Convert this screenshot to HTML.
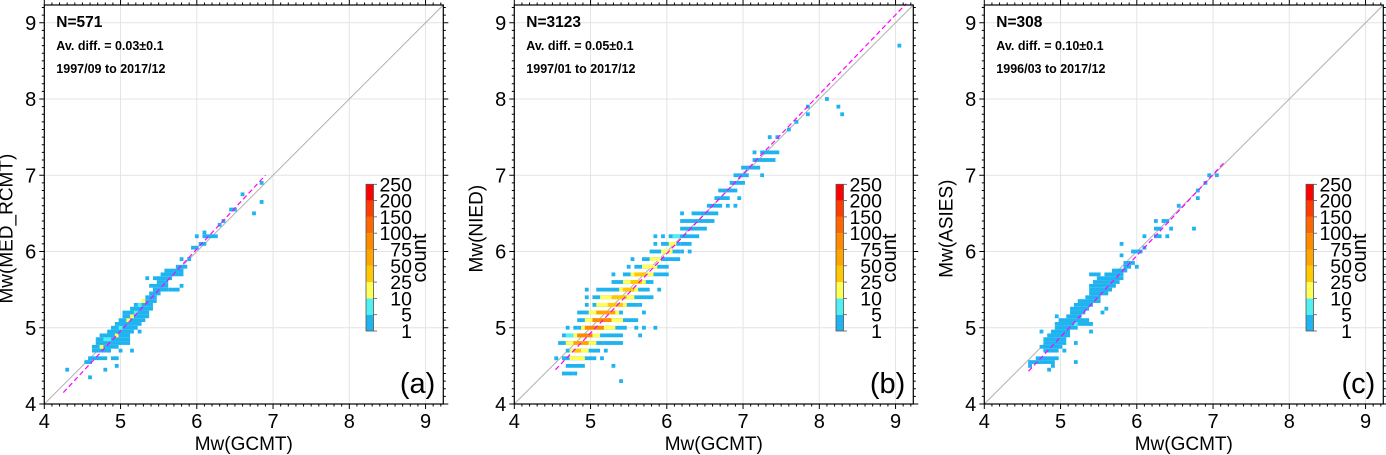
<!DOCTYPE html>
<html><head><meta charset="utf-8">
<style>
html,body{margin:0;padding:0;background:#fff;}
svg{display:block;font-family:"Liberation Sans",Arial,sans-serif;}
</style></head>
<body>
<svg id="chart" width="1386" height="455" viewBox="0 0 1386 455" xmlns="http://www.w3.org/2000/svg"></svg>
<script>
// ---- data ----
const levels = [1,5,10,25,50,75,100,150,200,250];
const levelColors = ["#1fb4f0","#50f0f0","#ffff55","#ffc800","#ffa500","#ff8a00","#ff6600","#ff3c00","#ff0000"];
const ticks = [4,5,6,7,8,9];
const panelLabels = ["(a)","(b)","(c)"];
const yTitles = ["Mw(MED_RCMT)","Mw(NIED)","Mw(ASIES)"];
const nTexts = ["N=571","N=3123","N=308"];
const diffTexts = ["Av. diff. = 0.03\u00b10.1","Av. diff. = 0.05\u00b10.1","Av. diff. = 0.10\u00b10.1"];
const dateTexts = ["1997/09 to 2017/12","1997/01 to 2017/12","1996/03 to 2017/12"];
const fitA = [4.25,4.15,6.9,7.0];
const fitB = [4.54,4.45,9.14,9.25];
const fitC = [4.58,4.43,7.14,7.16];
// runs: row y, x start, x end, count
const aY = [4.37,4.43,4.47,4.52,4.57,4.62,4.62,4.68,4.68,4.68,4.73,4.73,4.78,4.83,4.83,4.88,4.88,4.93,4.93,4.98,4.98,5.03,5.08,5.08,5.14,5.14,5.19,5.19,5.24,5.29,5.29,5.34,5.34,5.39,5.44,5.49,5.49,5.54,5.54,5.6,5.65,5.65,5.7,5.75,5.8,5.9,5.9,6.03,6.08,6.18,6.18,6.23,6.33,6.38,6.48,6.53,6.63,6.73,6.88];
const aX0 = [4.6,4.31,4.82,4.97,4.53,4.6,4.9,4.65,5.0,5.17,4.65,4.77,4.69,4.7,4.82,4.77,4.93,4.86,5.27,4.9,4.99,4.97,5.0,5.1,5.03,5.14,5.06,5.19,5.14,5.21,5.25,5.3,5.3,5.36,5.41,5.43,5.67,5.41,5.81,5.52,5.36,5.47,5.56,5.6,5.73,5.81,5.92,5.95,6.04,6.02,6.08,6.12,6.32,6.37,6.77,6.45,6.87,6.62,6.87];
const aX1 = [4.6,4.31,4.82,4.97,4.62,4.82,4.97,4.86,5.0,5.17,4.93,4.77,5.1,5.08,4.86,5.1,4.93,5.14,5.27,5.19,5.0,5.25,5.3,5.1,5.34,5.17,5.36,5.21,5.41,5.41,5.25,5.46,5.3,5.43,5.49,5.58,5.73,5.62,5.81,5.62,5.36,5.67,5.78,5.82,5.84,5.81,5.92,6.0,6.08,6.02,6.24,6.12,6.32,6.37,6.77,6.52,6.87,6.62,6.87];
const aC = [3,3,3,3,3,3,3,3,3,3,3,15,3,3,7,3,15,3,3,3,7,3,3,15,3,15,3,7,3,3,7,3,15,3,3,3,3,3,3,3,3,3,3,3,3,3,3,3,3,3,3,3,3,3,3,3,3,3,3];
const bY = [4.32,4.42,4.42,4.52,4.52,4.62,4.62,4.62,4.62,4.62,4.72,4.72,4.72,4.72,4.82,4.82,4.82,4.82,4.92,4.92,4.92,4.92,4.92,5.02,5.02,5.02,5.02,5.02,5.02,5.02,5.02,5.12,5.12,5.12,5.22,5.22,5.22,5.22,5.32,5.32,5.32,5.32,5.32,5.42,5.42,5.42,5.42,5.52,5.52,5.52,5.52,5.52,5.52,5.62,5.62,5.62,5.72,5.72,5.72,5.72,5.82,5.82,5.82,5.92,5.92,5.92,6.02,6.02,6.02,6.02,6.12,6.12,6.12,6.12,6.22,6.22,6.22,6.22,6.32,6.42,6.52,6.52,6.62,6.62,6.62,6.72,6.72,6.82,6.92,7.02,7.02,7.12,7.22,7.32,7.32,7.52,7.52,7.62,7.72,7.82,7.82,7.92,7.92,8.02,8.72];
const bX0 = [5.41,4.65,4.82,4.71,5.28,4.55,4.65,4.74,5.06,5.17,4.7,4.74,4.78,5.22,4.6,4.7,4.78,5.2,4.65,4.72,4.82,4.86,5.67,4.72,4.82,4.86,4.9,4.95,5.61,5.72,5.87,4.86,4.95,5.05,4.85,5.0,5.12,5.72,4.97,5.06,5.1,5.25,5.67,4.97,5.06,5.15,5.3,4.97,5.1,5.3,5.4,5.45,5.92,5.3,5.45,5.55,5.28,5.47,5.55,5.6,5.52,5.6,5.7,5.57,5.7,5.8,5.81,5.95,6.22,6.32,5.87,5.96,6.05,6.22,5.87,5.96,6.04,6.1,6.2,6.2,6.22,6.36,6.55,6.82,6.92,6.65,6.97,6.7,6.85,6.91,7.26,7.0,7.15,7.15,7.27,7.37,7.47,7.62,7.72,7.86,8.32,7.86,8.27,8.11,9.07];
const bX1 = [5.41,4.74,4.82,4.9,5.28,4.55,4.99,4.9,5.06,5.17,5.12,4.95,4.86,5.22,5.14,5.05,4.95,5.4,5.38,4.8,5.12,5.0,5.67,4.72,4.82,5.44,5.3,5.15,5.61,5.72,5.87,5.59,5.4,5.25,5.38,5.35,5.3,5.72,4.97,5.58,5.45,5.4,5.67,4.97,5.8,5.55,5.45,4.97,5.25,5.73,5.6,5.55,5.92,5.8,5.7,5.65,5.28,6.0,5.8,5.7,5.52,6.0,5.85,5.57,6.15,5.9,6.15,6.05,6.22,6.32,5.87,6.15,6.12,6.3,5.87,5.96,6.4,6.15,6.5,6.6,6.22,6.64,6.69,6.82,6.92,6.82,6.97,6.89,7.0,7.04,7.26,7.19,7.39,7.15,7.43,7.37,7.47,7.62,7.72,7.86,8.32,7.86,8.27,8.11,9.07];
const bC = [3,3,3,3,3,3,3,15,3,3,3,15,40,3,3,15,60,3,3,7,15,80,3,3,3,3,15,80,3,3,3,3,15,80,3,15,60,3,3,3,15,40,3,3,3,15,40,3,3,3,15,40,3,3,15,40,3,3,15,40,3,3,15,3,3,15,3,15,3,3,3,3,15,3,3,3,3,7,3,3,3,3,3,3,3,3,3,3,3,3,3,3,3,3,3,3,3,3,3,3,3,3,3,3,3];
const cY = [4.47,4.52,4.52,4.57,4.57,4.62,4.68,4.68,4.73,4.78,4.78,4.83,4.88,4.93,4.93,4.93,4.98,5.03,5.03,5.08,5.13,5.13,5.18,5.18,5.23,5.23,5.28,5.33,5.38,5.43,5.48,5.53,5.58,5.63,5.68,5.68,5.73,5.78,5.78,5.83,5.93,5.98,6.03,6.08,6.18,6.18,6.18,6.28,6.28,6.28,6.38,6.38,6.58,6.68,6.78,6.88,6.98,6.98];
const cX0 = [4.87,4.61,4.92,4.6,5.22,4.7,4.79,5.07,4.76,4.79,5.22,4.81,4.83,4.76,4.9,5.38,4.94,4.96,5.2,4.98,4.96,5.11,5.16,5.53,5.16,5.62,5.2,5.27,5.33,5.38,5.4,5.38,5.45,5.5,5.42,5.59,5.7,5.86,6.02,5.86,5.81,5.94,6.1,5.81,6.12,6.27,6.4,6.25,6.47,6.76,6.25,6.36,6.55,6.81,6.81,6.9,6.96,7.06];
const cX1 = [4.87,4.61,4.92,4.89,5.22,4.94,4.96,5.07,5.0,5.03,5.22,5.07,5.1,4.76,5.12,5.38,5.18,5.4,5.22,5.35,4.96,5.25,5.3,5.53,5.35,5.62,5.4,5.48,5.52,5.58,5.63,5.7,5.75,5.78,5.48,5.82,5.87,5.92,6.02,5.94,5.81,6.05,6.1,5.81,6.12,6.32,6.4,6.29,6.47,6.76,6.25,6.42,6.55,6.81,6.81,6.9,6.96,7.06];
const cC = [3,3,3,3,3,3,3,3,3,3,3,3,3,3,3,3,3,3,7,3,3,3,3,3,3,3,3,3,3,3,3,3,3,3,3,3,3,3,3,3,3,3,3,3,3,3,3,3,3,3,3,3,3,3,3,3,3,3];

const panels = [
  {L:44.3, Y:aY, X0:aX0, X1:aX1, C:aC, fit:fitA, cbx:366},
  {L:514.3, Y:bY, X0:bX0, X1:bX1, C:bC, fit:fitB, cbx:836},
  {L:984.3, Y:cY, X0:cX0, X1:cX1, C:cC, fit:fitC, cbx:1306}
];
const U = 76.25, B = 404, TOP = 5, W = 399;
const NS = "http://www.w3.org/2000/svg";
const svg = document.getElementById('chart');
function mk(tag, attrs, parent, text){
  const e = document.createElementNS(NS, tag);
  for (const k in attrs) e.setAttribute(k, attrs[k]);
  if (text !== undefined) e.textContent = text;
  (parent||svg).appendChild(e);
  return e;
}
function colorFor(c){
  for (let i=levels.length-2;i>=0;i--) if (c>=levels[i]) return levelColors[i];
  return levelColors[0];
}
panels.forEach((p, pi) => {
  const sx = v => p.L + (v-4)*U;
  const sy = v => B - (v-4)*U;
  const g = mk('g', {});
  
  
  ticks.forEach(t => {
    const gx = mk('line', {x1:sx(t),x2:sx(t),y1:TOP,y2:B,stroke:'#e4e4e4','stroke-width':1}, g);
    
    
    const gy = mk('line', {x1:p.L,x2:p.L+W,y1:sy(t),y2:sy(t),stroke:'#e4e4e4','stroke-width':1}, g);
    
    
  });
  const one = mk('line', {x1:sx(4),y1:sy(4),x2:sx(9.23),y2:sy(9.23),stroke:'#b0b0b0','stroke-width':1}, g);
  
  
  for (let i=0;i<p.Y.length;i++){
    const y = Math.round(p.Y[i]*20)/20;
    const x0 = Math.round(p.X0[i]*20)/20, x1 = Math.round(p.X1[i]*20)/20;
    const r = mk('rect', {x:sx(x0-0.025), y:sy(y+0.025), width:(x1-x0+0.05)*U, height:0.05*U, fill:colorFor(p.C[i])}, g);
    
    
  }
  const f = p.fit;
  const fl = mk('line', {x1:sx(f[0]),y1:sy(f[1]),x2:sx(f[2]),y2:sy(f[3]),stroke:'#ff00ff','stroke-width':1.2,'stroke-dasharray':'5,3'}, g);
  
  
  const fr = mk('rect', {x:p.L,y:TOP,width:W,height:B-TOP,fill:'none',stroke:'#000','stroke-width':1.2}, g);
  
  
  for (let k=0;k<=52;k++){
    const v = 4 + k*0.1;
    if (v>9.231) break;
    const major = Math.abs(v-Math.round(v))<1e-6;
    const len = major?5:2.5;
    mk('line',{x1:sx(v),x2:sx(v),y1:B,y2:B+len,stroke:'#000','stroke-width':1},g);
    mk('line',{x1:sx(v),x2:sx(v),y1:TOP,y2:TOP-len,stroke:'#000','stroke-width':1},g);
    mk('line',{x1:p.L,x2:p.L-len,y1:sy(v),y2:sy(v),stroke:'#000','stroke-width':1},g);
    mk('line',{x1:p.L+W,x2:p.L+W+len,y1:sy(v),y2:sy(v),stroke:'#000','stroke-width':1},g);
  }
  ticks.forEach(t => {
    const xl = mk('text',{x:sx(t),y:428,'text-anchor':'middle','font-size':20},g,String(t));
    
    
    const yl = mk('text',{x:p.L-8,y:sy(t)+7,'text-anchor':'end','font-size':20},g,String(t));
    
    
  });
  const xt = mk('text',{x:p.L+W/2,y:450,'text-anchor':'middle','font-size':19},g,'Mw(GCMT)');
  
  
  const ytx = p.L - 32;
  const yt = mk('text',{x:ytx,y:sy(6.3),'text-anchor':'middle','font-size':19,transform:`rotate(-90 ${ytx} ${sy(6.3)})`},g,yTitles[pi]);
  
  
  const t1 = mk('text',{x:p.L+12,y:27,'font-size':15.5,'font-weight':'bold'},g,nTexts[pi]);
  
  
  const t2 = mk('text',{x:p.L+12,y:50,'font-size':12.5,'font-weight':'bold'},g,diffTexts[pi]);
  
  
  const t3 = mk('text',{x:p.L+12,y:73,'font-size':12.5,'font-weight':'bold'},g,dateTexts[pi]);
  
  
  const pl = mk('text',{x:p.L+W-8,y:393,'text-anchor':'end','font-size':29},g,panelLabels[pi]);
  
  
  const cb = mk('g',{},g);
  
  
  const cbTop = 184.3, cbBot = 331, seg = (cbBot-cbTop)/(levels.length-1);
  for (let i=0;i<levelColors.length;i++){
    const r = mk('rect',{x:p.cbx,y:cbBot-(i+1)*seg,width:7.5,height:seg,fill:levelColors[i]},cb);
    
    
  }
  mk('rect',{x:p.cbx,y:cbTop,width:7.5,height:cbBot-cbTop,fill:'none',stroke:'#555','stroke-width':0.8},cb);
  levels.forEach((lv,i) => {
    const yy = cbBot - i*seg;
    mk('line',{x1:p.cbx+7.5,x2:p.cbx+11,y1:yy,y2:yy,stroke:'#555','stroke-width':0.8},cb);
    const tl = mk('text',{x:p.cbx+46,y:yy+7,'text-anchor':'end','font-size':19.5},cb,String(lv));
    
    
  });
  const cx = p.cbx+60, cy = 258;
  const ct = mk('text',{x:cx,y:cy,'text-anchor':'middle','font-size':20,transform:`rotate(-90 ${cx} ${cy})`},cb,'count');
  
  
});
</script>
</body></html>
